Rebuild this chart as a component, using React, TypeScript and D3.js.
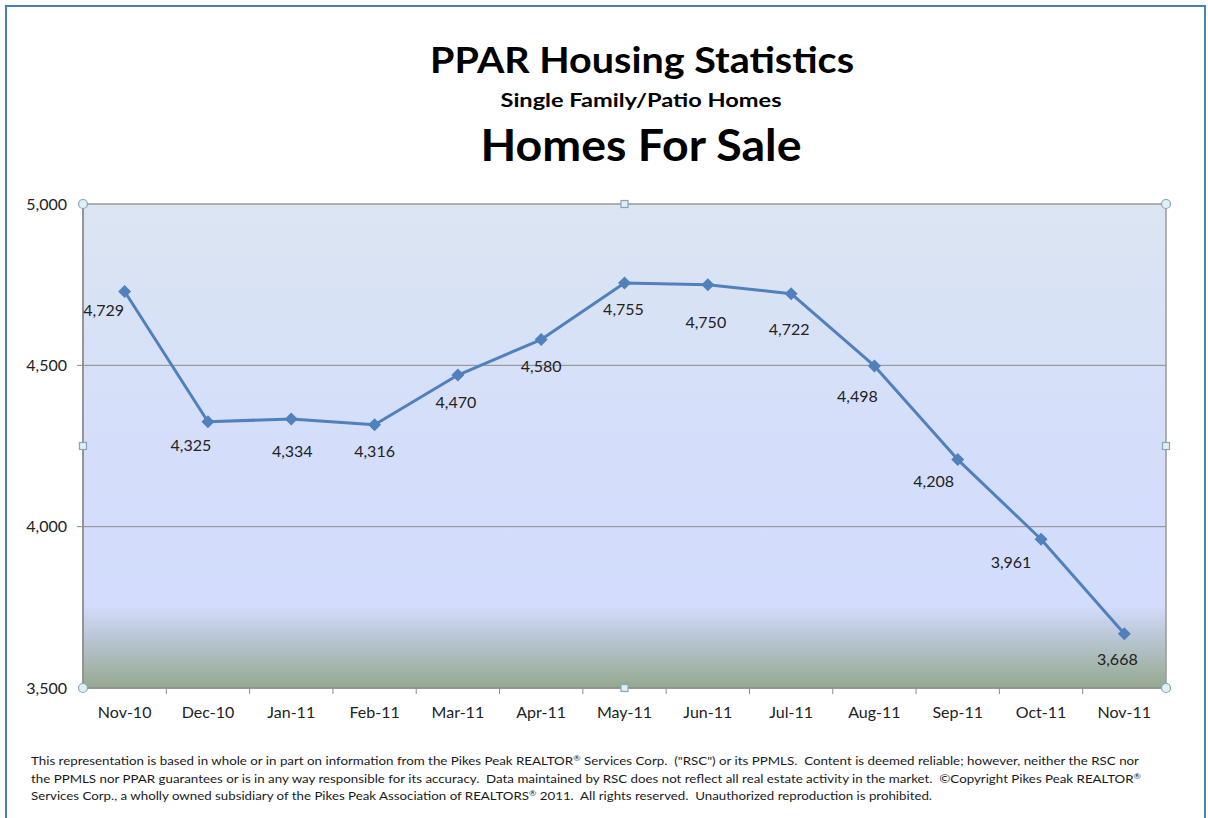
import React from "react";
import * as d3 from "d3";

const categories = ["Nov-10","Dec-10","Jan-11","Feb-11","Mar-11","Apr-11","May-11","Jun-11","Jul-11","Aug-11","Sep-11","Oct-11","Nov-11"];
const homesForSale = [4729,4325,4334,4316,4470,4580,4755,4750,4722,4498,4208,3961,3668];
const yTicks = [3500,4000,4500,5000];

// label placement offsets (style only)
const labelDx = [-21,-17,1,0,-2,0,-1,-2,-2,-17,-24,-30,-7];
const labelDy = [19,24,33,27,27,27,26,38,36,30,22,23,26];

const footLines = [
  "This representation is based in whole or in part on information from the Pikes Peak REALTOR\u00AE Services Corp.  (\"RSC\") or its PPMLS.  Content is deemed reliable; however, neither the RSC nor",
  "the PPMLS nor PPAR guarantees or is in any way responsible for its accuracy.  Data maintained by RSC does not reflect all real estate activity in the market.  \u00A9Copyright Pikes Peak REALTOR\u00AE",
  "Services Corp., a wholly owned subsidiary of the Pikes Peak Association of REALTORS\u00AE 2011.  All rights reserved.  Unauthorized reproduction is prohibited.",
];
const footWidths = [1108, 1110, 901];

const W = 1208, H = 818;
const L = 83, R = 1166, T = 204, B = 688;
const FONT = "Lato, 'Open Sans', sans-serif";

function withSup(t: string) {
  const parts = t.split("\u00AE");
  const out: React.ReactNode[] = [];
  parts.forEach((p, i) => {
    if (p.length > 0) out.push(<tspan key={"p" + i} dy={i > 0 ? 4 : undefined}>{p}</tspan>);
    if (i < parts.length - 1) {
      out.push(<tspan key={"s" + i} fontSize={8} dy={-4}>{"\u00AE"}</tspan>);
    }
  });
  return out;
}

export default function App() {
  const x = d3.scaleBand<string>().domain(categories).range([L, R]).padding(0);
  const bw = x.bandwidth();
  const y = d3.scaleLinear().domain([3500, 5000]).range([B, T]);
  const cx = (c: string) => (x(c) as number) + bw / 2;
  const pts = categories.map((c, i) => [cx(c), y(homesForSale[i])] as [number, number]);
  const line = d3.line()(pts) || "";
  const fmt = d3.format(",");
  const handleFill = "#dcf0f5";
  const handleStroke = "#8aa4b6";
  const midX = (L + R) / 2, midY = (T + B) / 2;

  return (
    <svg width={W} height={H} style={{ position: "absolute", left: 0, top: 0, background: "#fff" }} fontFamily={FONT}>
      <defs>
        <linearGradient id="bg" x1="0" y1="0" x2="0" y2="1">
          <stop offset="0" stopColor="#dce5f2" />
          <stop offset="0.5" stopColor="#d4defa" />
          <stop offset="0.83" stopColor="#d3dcfc" />
          <stop offset="0.9" stopColor="#b8c5d2" />
          <stop offset="1" stopColor="#94a98e" />
        </linearGradient>
      </defs>
      <rect x={6} y={6} width={1199} height={840} fill="none" stroke="#4a7ebb" strokeWidth={2} />

      <text x={642} y={73} textAnchor="middle" fontWeight="bold" fontSize={36} textLength={424} lengthAdjust="spacingAndGlyphs" fill="#000">PPAR Housing Statistics</text>
      <text x={641} y={107} textAnchor="middle" fontWeight="bold" fontSize={19.5} textLength={281} lengthAdjust="spacingAndGlyphs" fill="#000">Single Family/Patio Homes</text>
      <text x={641} y={161} textAnchor="middle" fontWeight="bold" fontSize={43} textLength={321} lengthAdjust="spacingAndGlyphs" fill="#000">Homes For Sale</text>

      <rect x={L} y={T} width={R - L} height={B - T} fill="url(#bg)" />
      {yTicks.filter(t => t !== 3500 && t !== 5000).map(t => (
        <line key={t} x1={L - 6} x2={R} y1={y(t)} y2={y(t)} stroke="#8c8c8c" strokeWidth={1} />
      ))}
      <rect x={L} y={T} width={R - L} height={B - T} fill="none" stroke="#9a9a9a" strokeWidth={1.5} />
      <line x1={L} x2={R} y1={B} y2={B} stroke="#8c8c8c" strokeWidth={1.5} />
      <line x1={L} x2={L} y1={T} y2={B} stroke="#8c8c8c" strokeWidth={1.5} />
      {categories.slice(1).map(c => (
        <line key={c} x1={x(c) as number} x2={x(c) as number} y1={B} y2={B + 6} stroke="#8c8c8c" strokeWidth={1} />
      ))}
      {yTicks.map(t => (
        <text key={t} x={67} y={y(t)} dy="0.35em" textAnchor="end" fontSize={16} fill="#222">{fmt(t)}</text>
      ))}
      {categories.map(c => (
        <text key={c} x={cx(c)} y={718} textAnchor="middle" fontSize={16} fill="#222">{c}</text>
      ))}

      <path d={line} fill="none" stroke="#4f81bd" strokeWidth={3} strokeLinejoin="round" />
      {pts.map(([px, py], i) => (
        <path key={i} d={`M${px},${py - 6.5}L${px + 6.5},${py}L${px},${py + 6.5}L${px - 6.5},${py}Z`} fill="#4f81bd" />
      ))}
      {pts.map(([px, py], i) => (
        <text key={i} x={px + labelDx[i]} y={py + labelDy[i]} dy="0.35em" textAnchor="middle" fontSize={16} fill="#222">{fmt(homesForSale[i])}</text>
      ))}

      {[[L, T], [R, T], [L, B], [R, B]].map(([hx, hy], i) => (
        <circle key={i} cx={hx} cy={hy} r={4.5} fill={handleFill} stroke={handleStroke} strokeWidth={1.2} />
      ))}
      {[[midX, T], [midX, B], [L, midY], [R, midY]].map(([hx, hy], i) => (
        <rect key={i} x={hx - 3.5} y={hy - 3.5} width={7} height={7} fill={handleFill} stroke={handleStroke} strokeWidth={1.2} />
      ))}

      {footLines.map((t, i) => (
        <text key={i} x={31} y={765 + i * 17.5} fontSize={12} textLength={footWidths[i]} lengthAdjust="spacingAndGlyphs" fill="#1a1a1a" style={{ whiteSpace: "pre" }}>{withSup(t)}</text>
      ))}
    </svg>
  );
}
